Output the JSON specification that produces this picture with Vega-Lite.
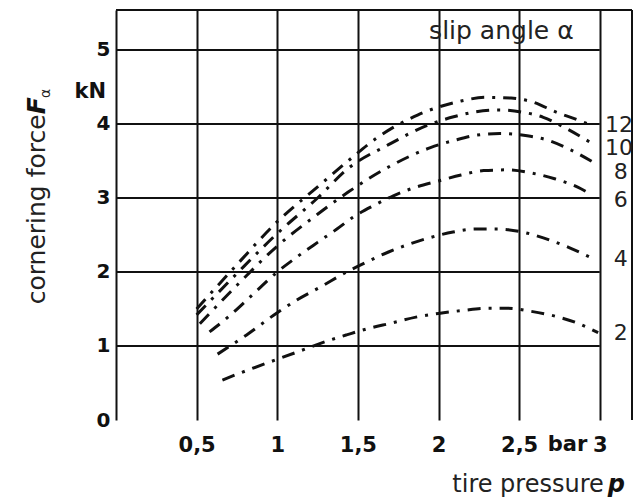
{
  "$schema": "https://vega.github.io/schema/vega-lite/v6.json",
  "width": 516,
  "height": 410,
  "autosize": {"type": "none"},
  "padding": {"left": 116, "top": 10, "right": 1, "bottom": 79},
  "background": "white",
  "config": {"view": {"stroke": null}, "font": "DejaVu Sans"},
  "datasets": {
    "curves": [
      {"alpha": "2", "p": 0.66, "F": 0.54}, {"alpha": "2", "p": 0.8, "F": 0.66}, {"alpha": "2", "p": 1.0, "F": 0.82}, {"alpha": "2", "p": 1.15, "F": 0.94}, {"alpha": "2", "p": 1.3, "F": 1.06}, {"alpha": "2", "p": 1.43, "F": 1.15}, {"alpha": "2", "p": 1.57, "F": 1.24}, {"alpha": "2", "p": 1.71, "F": 1.31}, {"alpha": "2", "p": 1.86, "F": 1.39}, {"alpha": "2", "p": 2.0, "F": 1.44}, {"alpha": "2", "p": 2.15, "F": 1.48}, {"alpha": "2", "p": 2.3, "F": 1.51}, {"alpha": "2", "p": 2.43, "F": 1.51}, {"alpha": "2", "p": 2.57, "F": 1.47}, {"alpha": "2", "p": 2.71, "F": 1.41}, {"alpha": "2", "p": 2.86, "F": 1.31}, {"alpha": "2", "p": 2.99, "F": 1.18},
      {"alpha": "4", "p": 0.63, "F": 0.89}, {"alpha": "4", "p": 0.81, "F": 1.15}, {"alpha": "4", "p": 1.0, "F": 1.45}, {"alpha": "4", "p": 1.12, "F": 1.62}, {"alpha": "4", "p": 1.27, "F": 1.8}, {"alpha": "4", "p": 1.43, "F": 2.0}, {"alpha": "4", "p": 1.55, "F": 2.13}, {"alpha": "4", "p": 1.69, "F": 2.27}, {"alpha": "4", "p": 1.81, "F": 2.37}, {"alpha": "4", "p": 1.94, "F": 2.46}, {"alpha": "4", "p": 2.09, "F": 2.54}, {"alpha": "4", "p": 2.23, "F": 2.58}, {"alpha": "4", "p": 2.37, "F": 2.58}, {"alpha": "4", "p": 2.52, "F": 2.54}, {"alpha": "4", "p": 2.65, "F": 2.46}, {"alpha": "4", "p": 2.81, "F": 2.33}, {"alpha": "4", "p": 2.94, "F": 2.2},
      {"alpha": "6", "p": 0.58, "F": 1.19}, {"alpha": "6", "p": 0.7, "F": 1.4}, {"alpha": "6", "p": 0.85, "F": 1.7}, {"alpha": "6", "p": 1.0, "F": 2.0}, {"alpha": "6", "p": 1.12, "F": 2.2}, {"alpha": "6", "p": 1.25, "F": 2.4}, {"alpha": "6", "p": 1.37, "F": 2.58}, {"alpha": "6", "p": 1.47, "F": 2.74}, {"alpha": "6", "p": 1.6, "F": 2.9}, {"alpha": "6", "p": 1.72, "F": 3.03}, {"alpha": "6", "p": 1.85, "F": 3.14}, {"alpha": "6", "p": 2.0, "F": 3.23}, {"alpha": "6", "p": 2.14, "F": 3.31}, {"alpha": "6", "p": 2.28, "F": 3.37}, {"alpha": "6", "p": 2.43, "F": 3.38}, {"alpha": "6", "p": 2.57, "F": 3.34}, {"alpha": "6", "p": 2.72, "F": 3.26}, {"alpha": "6", "p": 2.86, "F": 3.15}, {"alpha": "6", "p": 2.93, "F": 3.07},
      {"alpha": "8", "p": 0.52, "F": 1.3}, {"alpha": "8", "p": 0.75, "F": 1.82}, {"alpha": "8", "p": 1.0, "F": 2.35}, {"alpha": "8", "p": 1.25, "F": 2.78}, {"alpha": "8", "p": 1.44, "F": 3.08}, {"alpha": "8", "p": 1.7, "F": 3.43}, {"alpha": "8", "p": 1.95, "F": 3.68}, {"alpha": "8", "p": 2.1, "F": 3.78}, {"alpha": "8", "p": 2.24, "F": 3.85}, {"alpha": "8", "p": 2.38, "F": 3.87}, {"alpha": "8", "p": 2.55, "F": 3.84}, {"alpha": "8", "p": 2.68, "F": 3.78}, {"alpha": "8", "p": 2.82, "F": 3.65}, {"alpha": "8", "p": 2.97, "F": 3.47},
      {"alpha": "10", "p": 0.5, "F": 1.42}, {"alpha": "10", "p": 0.75, "F": 1.98}, {"alpha": "10", "p": 1.0, "F": 2.52}, {"alpha": "10", "p": 1.25, "F": 3.0}, {"alpha": "10", "p": 1.44, "F": 3.4}, {"alpha": "10", "p": 1.69, "F": 3.72}, {"alpha": "10", "p": 1.94, "F": 3.99}, {"alpha": "10", "p": 2.1, "F": 4.1}, {"alpha": "10", "p": 2.22, "F": 4.16}, {"alpha": "10", "p": 2.37, "F": 4.19}, {"alpha": "10", "p": 2.52, "F": 4.16}, {"alpha": "10", "p": 2.65, "F": 4.09}, {"alpha": "10", "p": 2.8, "F": 3.93}, {"alpha": "10", "p": 2.95, "F": 3.74},
      {"alpha": "12", "p": 0.5, "F": 1.5}, {"alpha": "12", "p": 0.75, "F": 2.1}, {"alpha": "12", "p": 1.0, "F": 2.68}, {"alpha": "12", "p": 1.25, "F": 3.15}, {"alpha": "12", "p": 1.45, "F": 3.52}, {"alpha": "12", "p": 1.61, "F": 3.8}, {"alpha": "12", "p": 1.87, "F": 4.12}, {"alpha": "12", "p": 2.14, "F": 4.31}, {"alpha": "12", "p": 2.29, "F": 4.36}, {"alpha": "12", "p": 2.45, "F": 4.35}, {"alpha": "12", "p": 2.58, "F": 4.3}, {"alpha": "12", "p": 2.73, "F": 4.16}, {"alpha": "12", "p": 2.87, "F": 4.05}, {"alpha": "12", "p": 2.95, "F": 3.98}
    ],
    "curveLabels": [
      {"label": "12", "x": 3.12, "y": 3.99}, {"label": "10", "x": 3.12, "y": 3.68}, {"label": "8", "x": 3.13, "y": 3.35},
      {"label": "6", "x": 3.13, "y": 2.97}, {"label": "4", "x": 3.13, "y": 2.18}, {"label": "2", "x": 3.13, "y": 1.18}
    ],
    "hgrid": [{"y": 1}, {"y": 2}, {"y": 3}, {"y": 4}, {"y": 5}]
  },
  "layer": [
    {
      "data": {"name": "hgrid"},
      "mark": {"type": "rule", "color": "#111", "strokeWidth": 2},
      "encoding": {
        "y": {"field": "y", "type": "quantitative", "scale": {"domain": [0, 5.54], "nice": false, "zero": false}, "axis": {"values": [0, 1, 2, 3, 4, 5], "format": "d", "grid": false, "domain": true, "domainColor": "#111", "domainWidth": 2, "ticks": false, "labelFont": "DejaVu Sans", "labelFontWeight": "bold", "labelFontSize": 20, "labelColor": "#111", "labelPadding": 6, "title": null}},
        "x": {"datum": 0, "type": "quantitative", "scale": {"domain": [0, 3.2], "nice": false, "zero": false}, "axis": {"values": [0.5, 1, 1.5, 2, 2.5, 3], "format": "~g", "grid": true, "gridColor": "#111", "gridWidth": 2, "domain": false, "ticks": false, "labelExpr": "replace(datum.label, '.', ',')", "labelFont": "DejaVu Sans", "labelFontWeight": "bold", "labelFontSize": 21, "labelColor": "#111", "labelPadding": 14, "title": null}},
        "x2": {"datum": 3}
      }
    },
    {
      "data": {"values": [{"a": 1}]},
      "mark": {"type": "rule", "color": "#111", "strokeWidth": 2},
      "encoding": {"y": {"datum": 5.54, "type": "quantitative"}, "x": {"datum": 0, "type": "quantitative"}, "x2": {"datum": 3.2}}
    },
    {
      "data": {"values": [{"a": 1}]},
      "mark": {"type": "rule", "color": "#111", "strokeWidth": 2},
      "encoding": {"x": {"datum": 3.2, "type": "quantitative"}, "y": {"datum": 0, "type": "quantitative"}, "y2": {"datum": 5.54}}
    },
    {
      "data": {"name": "curves"},
      "mark": {"type": "line", "color": "#111", "strokeWidth": 3, "strokeDash": [13, 8, 3, 8], "interpolate": "monotone"},
      "encoding": {
        "x": {"field": "p", "type": "quantitative"},
        "y": {"field": "F", "type": "quantitative"},
        "detail": {"field": "alpha"}
      }
    },
    {
      "data": {"name": "curveLabels"},
      "mark": {"type": "text", "font": "DejaVu Sans", "fontSize": 22, "color": "#222", "align": "center", "baseline": "middle"},
      "encoding": {"x": {"field": "x", "type": "quantitative"}, "y": {"field": "y", "type": "quantitative"}, "text": {"field": "label"}}
    },
    {
      "data": {"values": [{"t": "slip angle α", "x": 2.39, "y": 5.26}]},
      "mark": {"type": "text", "font": "DejaVu Sans", "fontSize": 25, "color": "#222", "align": "center", "baseline": "middle"},
      "encoding": {"x": {"field": "x", "type": "quantitative"}, "y": {"field": "y", "type": "quantitative"}, "text": {"field": "t"}}
    },
    {
      "data": {"values": [{"t": "kN", "x": -0.16, "y": 4.43}, {"t": "bar", "x": 2.8, "y": -0.34}]},
      "mark": {"type": "text", "font": "DejaVu Sans", "fontSize": 21, "fontWeight": "bold", "color": "#111", "align": "center", "baseline": "middle"},
      "encoding": {"x": {"field": "x", "type": "quantitative"}, "y": {"field": "y", "type": "quantitative"}, "text": {"field": "t"}}
    },
    {
      "data": {"values": [{"t": "cornering force", "x": -0.44, "y": 4.13}]},
      "mark": {"type": "text", "font": "DejaVu Sans", "fontSize": 25, "color": "#222", "align": "right", "baseline": "alphabetic", "angle": 270},
      "encoding": {"x": {"field": "x", "type": "quantitative"}, "y": {"field": "y", "type": "quantitative"}, "text": {"field": "t"}}
    },
    {
      "data": {"values": [{"t": "F", "x": -0.44, "y": 4.13}]},
      "mark": {"type": "text", "font": "DejaVu Sans", "fontSize": 25, "fontWeight": "bold", "fontStyle": "italic", "color": "#111", "align": "left", "baseline": "alphabetic", "angle": 270},
      "encoding": {"x": {"field": "x", "type": "quantitative"}, "y": {"field": "y", "type": "quantitative"}, "text": {"field": "t"}}
    },
    {
      "data": {"values": [{"t": "α", "x": -0.41, "y": 4.35}]},
      "mark": {"type": "text", "font": "DejaVu Sans", "fontSize": 14, "color": "#222", "align": "left", "baseline": "alphabetic", "angle": 270},
      "encoding": {"x": {"field": "x", "type": "quantitative"}, "y": {"field": "y", "type": "quantitative"}, "text": {"field": "t"}}
    },
    {
      "data": {"values": [{"t": "tire pressure", "x": 3.025, "y": -0.97}]},
      "mark": {"type": "text", "font": "DejaVu Sans", "fontSize": 24, "color": "#222", "align": "right", "baseline": "alphabetic"},
      "encoding": {"x": {"field": "x", "type": "quantitative"}, "y": {"field": "y", "type": "quantitative"}, "text": {"field": "t"}}
    },
    {
      "data": {"values": [{"t": "p", "x": 3.05, "y": -0.97}]},
      "mark": {"type": "text", "font": "DejaVu Sans", "fontSize": 24, "fontWeight": "bold", "fontStyle": "italic", "color": "#111", "align": "left", "baseline": "alphabetic"},
      "encoding": {"x": {"field": "x", "type": "quantitative"}, "y": {"field": "y", "type": "quantitative"}, "text": {"field": "t"}}
    }
  ]
}
